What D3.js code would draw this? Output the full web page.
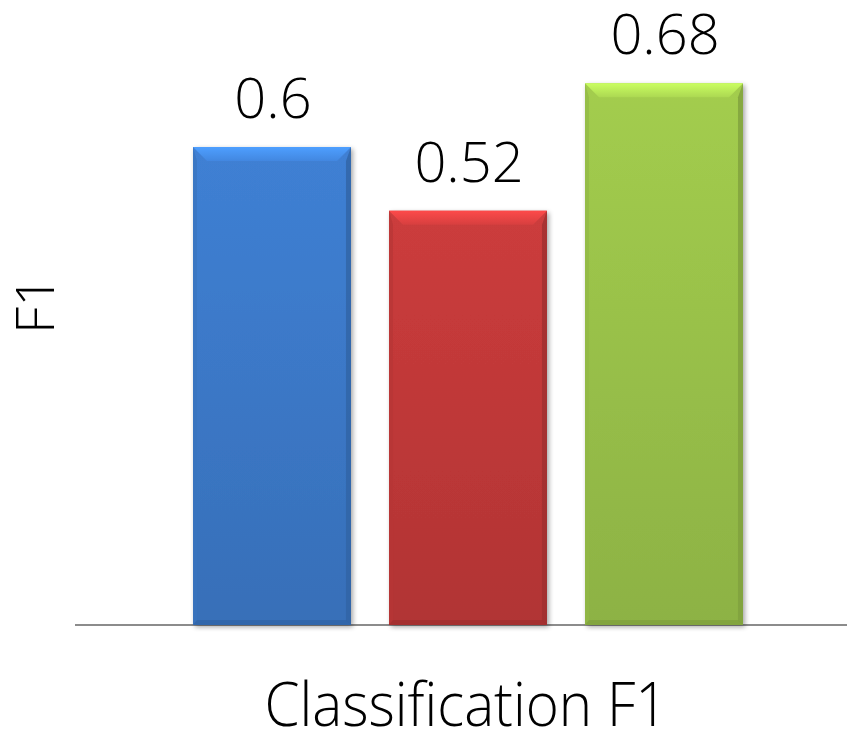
<!DOCTYPE html>
<html>
<head>
<meta charset="utf-8">
<script src="https://cdn.jsdelivr.net/npm/d3@7"></script>
<style>
  html, body { margin: 0; padding: 0; background: #fff; }
  text { font-family: "Open Sans", "Lato", sans-serif; font-weight: 300; fill: #000; }
</style>
</head>
<body>
<svg id="chart" width="847" height="731"></svg>
<script>
// Classification F1 for three models
const categories = ["A", "B", "C"];
const values = [0.6, 0.52, 0.68];
const valueLabels = ["0.6", "0.52", "0.68"];
const baseColors = ["#3f80d4", "#cc3c3c", "#a3cd4e"];
const xTitle = "Classification F1";
const yTitle = "F1";

const svg = d3.select("#chart");
const W = 847, H = 731;
const baseY = 625;

const x = d3.scaleBand().domain(categories).range([174, 762]).paddingInner(0.194).paddingOuter(0.097);
const y = d3.scaleLinear().domain([0, 0.6]).range([baseY, 147]);

const defs = svg.append("defs");
const bevel = 14;

categories.forEach((c, i) => {
  const col = d3.color(baseColors[i]);
  // vertical body gradient: slightly darker toward the base
  const g = defs.append("linearGradient").attr("id", "body" + i)
    .attr("x1", 0).attr("y1", 0).attr("x2", 0).attr("y2", 1);
  g.append("stop").attr("offset", 0).attr("stop-color", col.formatHex());
  g.append("stop").attr("offset", 1).attr("stop-color", col.darker(0.4).formatHex());
  // top bevel highlight
  const t = defs.append("linearGradient").attr("id", "top" + i)
    .attr("x1", 0).attr("y1", 0).attr("x2", 0).attr("y2", 1);
  t.append("stop").attr("offset", 0).attr("stop-color", col.brighter(0.6).formatHex());
  t.append("stop").attr("offset", 1).attr("stop-color", col.brighter(0.15).formatHex());
});

const shadow = defs.append("filter").attr("id", "shadow").attr("x", "-10%").attr("y", "-10%").attr("width", "130%").attr("height", "130%");
shadow.append("feGaussianBlur").attr("in", "SourceAlpha").attr("stdDeviation", 2.5).attr("result", "b");
shadow.append("feOffset").attr("in", "b").attr("dx", 1.5).attr("dy", 1.5).attr("result", "o");
shadow.append("feComponentTransfer").attr("in", "o").attr("result", "s")
  .append("feFuncA").attr("type", "linear").attr("slope", 0.35);
const m = shadow.append("feMerge");
m.append("feMergeNode").attr("in", "s");
m.append("feMergeNode").attr("in", "SourceGraphic");

// baseline
svg.append("line")
  .attr("x1", 75).attr("x2", W).attr("y1", baseY).attr("y2", baseY)
  .attr("stroke", "#8c8c8c").attr("stroke-width", 2);

const bars = svg.append("g").selectAll("g.bar").data(categories).join("g").attr("class", "bar");

bars.each(function (c, i) {
  const g = d3.select(this);
  const x0 = x(c), x1 = x(c) + x.bandwidth();
  const y0 = y(values[i]), y1 = y(0);
  const col = d3.color(baseColors[i]);
  g.append("rect")
    .attr("x", x0).attr("y", y0).attr("width", x1 - x0).attr("height", y1 - y0)
    .attr("fill", `url(#body${i})`).attr("filter", "url(#shadow)");
  // left edge
  g.append("polygon")
    .attr("points", [[x0, y0], [x0 + 4, y0 + bevel], [x0 + 4, y1 - 4], [x0, y1]].join(" "))
    .attr("fill", col.darker(0.3).formatHex()).attr("opacity", 0.7);
  // right edge
  g.append("polygon")
    .attr("points", [[x1, y0], [x1 - 5, y0 + bevel], [x1 - 5, y1 - 4], [x1, y1]].join(" "))
    .attr("fill", col.darker(0.7).formatHex()).attr("opacity", 0.8);
  // top bevel
  g.append("polygon")
    .attr("points", [[x0, y0], [x1, y0], [x1 - bevel, y0 + bevel], [x0 + bevel, y0 + bevel]].join(" "))
    .attr("fill", `url(#top${i})`);
  // bottom edge
  g.append("polygon")
    .attr("points", [[x0, y1], [x0 + 4, y1 - 5], [x1 - 5, y1 - 5], [x1, y1]].join(" "))
    .attr("fill", col.darker(0.7).formatHex()).attr("opacity", 0.7);
});

// value labels
svg.append("g").selectAll("text").data(categories).join("text")
  .attr("x", c => x(c) + x.bandwidth() / 2 + 1)
  .attr("y", (c, i) => y(values[i]) - 29)
  .attr("text-anchor", "middle")
  .style("font-size", "56px")
  .text((c, i) => valueLabels[i]);

// axis titles
svg.append("text")
  .attr("x", 466).attr("y", 726)
  .attr("text-anchor", "middle")
  .attr("textLength", 403)
  .attr("lengthAdjust", "spacingAndGlyphs")
  .style("font-size", "60px")
  .text(xTitle);

svg.append("text")
  .attr("transform", "translate(54,305) rotate(-90)")
  .attr("text-anchor", "middle")
  .style("font-size", "54px")
  .text(yTitle);
</script>
</body>
</html>
